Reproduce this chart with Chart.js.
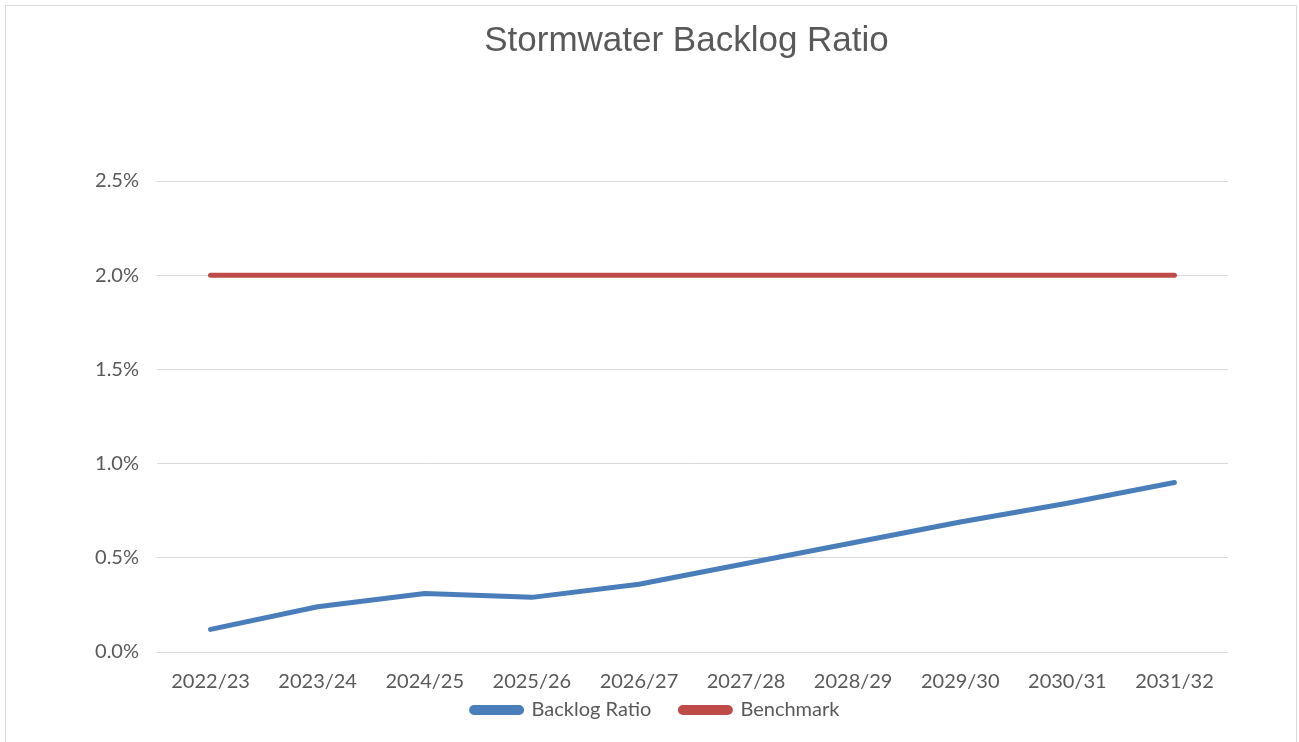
<!DOCTYPE html>
<html>
<head>
<meta charset="utf-8">
<script src="https://cdn.jsdelivr.net/npm/chart.js@4/dist/chart.umd.min.js"></script>
<style>
  html, body { margin: 0; padding: 0; background: #ffffff; }
  #wrap { width: 1299px; height: 742px; position: relative; }
</style>
</head>
<body>
<div id="wrap"><canvas id="chart" width="1299" height="742"></canvas></div>
<script>
const chartTitle = 'Stormwater Backlog Ratio';
const years = ['2022/23', '2023/24', '2024/25', '2025/26', '2026/27', '2027/28', '2028/29', '2029/30', '2030/31', '2031/32'];
const backlogRatio = [0.12, 0.24, 0.31, 0.29, 0.36, 0.47, 0.58, 0.69, 0.79, 0.90];
const benchmark = [2.0, 2.0, 2.0, 2.0, 2.0, 2.0, 2.0, 2.0, 2.0, 2.0];
const yTicks = [0, 0.5, 1.0, 1.5, 2.0, 2.5];

const textColor = '#595959';
const tickFont = { family: 'Lato, "Open Sans", sans-serif', size: 20 };

// white background with a thin grey frame around the chart
const frame = {
  id: 'frame',
  beforeDraw(chart) {
    const c = chart.ctx;
    c.save();
    c.fillStyle = '#ffffff';
    c.fillRect(0, 0, chart.width, chart.height);
    c.strokeStyle = '#d9d9d9';
    c.lineWidth = 1;
    c.strokeRect(5.5, 5.5, chart.width - 8, chart.height + 10);
    c.restore();
  }
};

// chart heading, centred over the plot
const heading = {
  id: 'heading',
  afterDraw(chart) {
    const c = chart.ctx;
    const area = chart.chartArea;
    c.save();
    c.fillStyle = textColor;
    c.font = '35px "Liberation Sans", Arial, sans-serif';
    c.textAlign = 'center';
    c.textBaseline = 'middle';
    c.fillText(chartTitle, (area.left + area.right) / 2 - 6, 41);
    c.restore();
  }
};

// centre the legend row under the plot area rather than the whole canvas
const legendShift = {
  id: 'legendShift',
  afterLayout(chart) {
    const lg = chart.legend;
    if (!lg) return;
    const dx = (chart.chartArea.left + chart.chartArea.right) / 2 - (lg.left + lg.right) / 2 - 37;
    lg.left += dx;
    lg.right += dx;
  }
};

new Chart(document.getElementById('chart'), {
  type: 'line',
  data: {
    labels: years,
    datasets: [
      {
        label: 'Backlog Ratio',
        data: backlogRatio,
        borderColor: '#4a7ebb',
        backgroundColor: '#4a7ebb',
        borderWidth: 5,
        borderCapStyle: 'round',
        borderJoinStyle: 'round',
        pointRadius: 0,
        tension: 0
      },
      {
        label: 'Benchmark',
        data: benchmark,
        borderColor: '#be4b48',
        backgroundColor: '#be4b48',
        borderWidth: 5,
        borderCapStyle: 'round',
        borderJoinStyle: 'round',
        pointRadius: 0,
        tension: 0
      }
    ]
  },
  options: {
    responsive: false,
    animation: false,
    devicePixelRatio: 1,
    layout: { padding: { left: 0, right: 71, top: 181, bottom: 12 } },
    plugins: {
      title: { display: false },
      legend: {
        position: 'bottom',
        labels: {
          color: textColor,
          font: tickFont,
          boxWidth: 50,
          boxHeight: 5,
          padding: 29,
          useBorderRadius: true,
          borderRadius: 2.5
        }
      },
      tooltip: { enabled: false }
    },
    scales: {
      x: {
        offset: true,
        afterFit(scale) {
          // compact axis box; the labels may run into the legend's top padding
          scale.height = 19;
          scale._computeLabelArea = () => undefined;
        },
        grid: { display: false, drawTicks: false },
        border: { display: false },
        ticks: { color: textColor, font: tickFont, padding: 18, maxRotation: 0 }
      },
      y: {
        min: 0,
        max: 2.5,
        afterFit(scale) { scale.width = 157; },
        afterBuildTicks(scale) { scale.ticks = yTicks.map(v => ({ value: v })); },
        grid: { color: '#d9d9d9', lineWidth: 1, drawTicks: false },
        border: { display: false },
        ticks: {
          color: textColor,
          font: tickFont,
          padding: 18,
          callback: v => v.toFixed(1) + '%'
        }
      }
    }
  },
  plugins: [frame, heading, legendShift]
});
</script>
</body>
</html>
